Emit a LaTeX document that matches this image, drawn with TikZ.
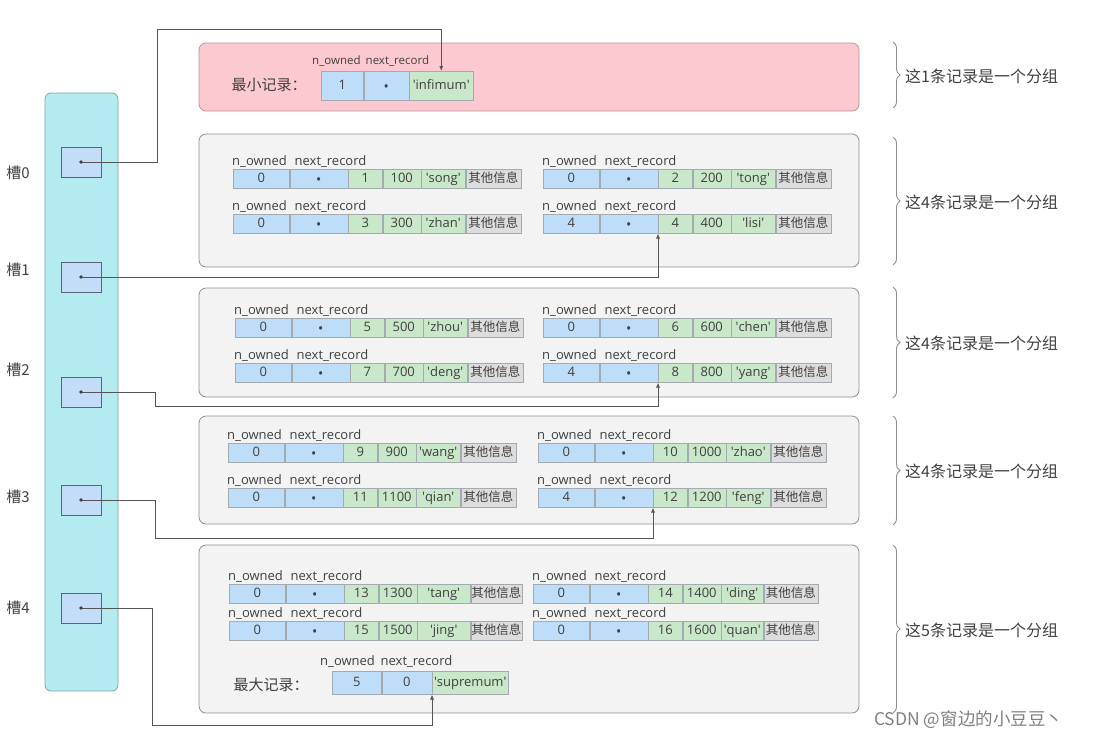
\documentclass[tikz,border=0pt]{standalone}
\usepackage{fontspec}
\setmainfont{Open Sans}
\newfontfamily\cjk{Noto Sans CJK SC}
\usepackage{tikz}
\usetikzlibrary{arrows.meta,decorations.pathreplacing,positioning}

\definecolor{SlotCol}{HTML}{B3EBF0}
\definecolor{SlotEdge}{HTML}{7FA3A8}
\definecolor{SlotBox}{HTML}{C3DDF8}
\definecolor{SlotBoxEdge}{HTML}{56657A}
\definecolor{CellBlue}{HTML}{BDDDF9}
\definecolor{CellGreen}{HTML}{C9E7C9}
\definecolor{CellGray}{HTML}{DDDDDD}
\definecolor{CellEdge}{HTML}{A3ABB0}
\definecolor{GroupPink}{HTML}{FDC9D0}
\definecolor{PinkEdge}{HTML}{B4959A}
\definecolor{GroupGray}{HTML}{F3F3F3}
\definecolor{EdgeGray}{HTML}{8E8E8E}
\definecolor{InkGray}{HTML}{404040}
\definecolor{LinkGray}{HTML}{555555}

\newcommand{\qt}[1]{\textquotesingle#1\textquotesingle}
\newcommand{\Dot}{\raisebox{-2.5pt}{\fontsize{14}{14}\selectfont\textbullet}}
% one record: prefix, x, y, n_owned, key, value, name, name width, other width
\newcommand{\Record}[9]{%
  \node (#1o) at (#2,#3) [Cell, BlueCell, minimum width=56pt, anchor=north west] {#4};
  \node (#1n) [Cell, BlueCell, minimum width=58pt, right=0pt of #1o] {\Dot};
  \node (#1k) [Cell, GreenCell, minimum width=34pt, right=0pt of #1n] {#5};
  \node (#1v) [Cell, GreenCell, minimum width=38pt, right=0pt of #1k] {#6};
  \node (#1m) [Cell, GreenCell, minimum width=#8, right=0pt of #1v] {\qt{#7}};
  \node (#1x) [Cell, GrayCell, minimum width=#9, right=0pt of #1m] {\cjk\fontsize{12.5}{14}\selectfont 其他信息};
  \node (#1h) [Head, anchor=base west] at ([xshift=-1pt,yshift=4pt]#1o.north west) {n\_owned};
  \node (#1H) [Head, anchor=base west] at ([xshift=5pt,yshift=4pt]#1n.north west) {next\_record};
}

\begin{document}
\begin{tikzpicture}[x=1pt, y=-1pt]
		\tikzstyle{Column}	= [draw=SlotEdge, fill=SlotCol, rounded corners=6pt, line width=0.8pt]
		\tikzstyle{SlotBox}	= [draw=SlotBoxEdge, fill=SlotBox, line width=0.8pt, minimum width=40pt, minimum height=30pt]
		\tikzstyle{SlotLabel}	= [text=InkGray, font=\cjk\fontsize{15}{17}\selectfont]
		\tikzstyle{Group}	= [draw=EdgeGray, fill=GroupGray, rounded corners=7pt, line width=0.8pt, minimum width=660pt]
		\tikzstyle{PinkGroup}	= [draw=PinkEdge, fill=GroupPink]
		\tikzstyle{Cell}	= [draw=CellEdge, line width=0.5pt, inner sep=0pt, minimum height=19pt, text height=9pt, text depth=2.5pt, text=InkGray, font=\fontsize{13}{15}\selectfont]
		\tikzstyle{BlueCell}	= [fill=CellBlue]
		\tikzstyle{GreenCell}	= [fill=CellGreen]
		\tikzstyle{GrayCell}	= [fill=CellGray]
		\tikzstyle{Head}	= [inner sep=0pt, text=InkGray, font=\fontsize{13}{15}\selectfont]
		\tikzstyle{SmallHead}	= [inner sep=0pt, text=InkGray, font=\fontsize{11.5}{13}\selectfont]
		\tikzstyle{BigLabel}	= [text=InkGray, font=\cjk\fontsize{15}{17}\selectfont]
		\tikzstyle{Brace}	= [draw=EdgeGray, line width=0.9pt, decorate, decoration={brace, amplitude=7pt}]
		\tikzstyle{GroupText}	= [anchor=west, inner sep=0pt, text=InkGray, font=\cjk\fontsize{16}{18}\selectfont]
		\tikzstyle{Link}	= [draw=LinkGray, line width=0.8pt, -{Latex[length=5pt,width=4pt]}]

		\useasboundingbox (0,0) rectangle (1094,740);

		% slot directory
		\node (col) at (81.5,392) [Column, minimum width=73pt, minimum height=598pt] {};
		\node (s0) at (81,162) [SlotBox] {};
		\node (s1) at (81,277) [SlotBox] {};
		\node (s2) at (81,392) [SlotBox] {};
		\node (s3) at (81,500) [SlotBox] {};
		\node (s4) at (81,608) [SlotBox] {};
		\node (l0) at (18,173) [SlotLabel] {槽0};
		\node (l1) at (18,270) [SlotLabel] {槽1};
		\node (l2) at (18,370) [SlotLabel] {槽2};
		\node (l3) at (18,497) [SlotLabel] {槽3};
		\node (l4) at (18,608) [SlotLabel] {槽4};

		% groups
		\node (g0) at (529,77) [Group, PinkGroup, minimum height=68pt] {};
		\node (g1) at (529,200.5) [Group, minimum height=133pt] {};
		\node (g2) at (529,342.5) [Group, minimum height=109pt] {};
		\node (g3) at (529,470) [Group, minimum height=108pt] {};
		\node (g4) at (529,629) [Group, minimum height=168pt] {};

		% infimum
		\node (minl) at (269,85) [BigLabel] {最小记录：};
		\node (io) at (321,71) [Cell, BlueCell, anchor=north west, minimum width=42pt, minimum height=29pt] {1};
		\node (in) [Cell, BlueCell, minimum width=45pt, minimum height=29pt, right=0pt of io] {\Dot};
		\node (ii) [Cell, GreenCell, minimum width=64pt, minimum height=29pt, right=0pt of in] {\qt{infimum}};
		\node (ih) [SmallHead, anchor=base west] at ([xshift=-9pt,yshift=7pt]io.north west) {n\_owned};
		\node (iH) [SmallHead, anchor=base west] at ([xshift=2pt,yshift=7pt]in.north west) {next\_record};

		% records
		\Record{r1}{233}{169}{0}{1}{100}{song}{44pt}{55pt}
		\Record{r2}{543}{169}{0}{2}{200}{tong}{44pt}{55pt}
		\Record{r3}{233}{214}{0}{3}{300}{zhan}{44pt}{55pt}
		\Record{r4}{543}{214}{4}{4}{400}{lisi}{44pt}{55pt}
		\Record{r5}{235}{318}{0}{5}{500}{zhou}{44pt}{55pt}
		\Record{r6}{543}{318}{0}{6}{600}{chen}{44pt}{55pt}
		\Record{r7}{235}{363}{0}{7}{700}{deng}{44pt}{55pt}
		\Record{r8}{543}{363}{4}{8}{800}{yang}{44pt}{55pt}
		\Record{r9}{228}{443}{0}{9}{900}{wang}{44pt}{55pt}
		\Record{r10}{538}{443}{0}{10}{1000}{zhao}{44pt}{55pt}
		\Record{r11}{228}{488}{0}{11}{1100}{qian}{44pt}{55pt}
		\Record{r12}{538}{488}{4}{12}{1200}{feng}{44pt}{55pt}
		\Record{r13}{229}{584}{0}{13}{1300}{tang}{53pt}{51pt}
		\Record{r14}{533}{584}{0}{14}{1400}{ding}{42pt}{54pt}
		\Record{r15}{229}{621}{0}{15}{1500}{jing}{53pt}{51pt}
		\Record{r16}{533}{621}{0}{16}{1600}{quan}{42pt}{54pt}

		% supremum
		\node (maxl) at (271,685) [BigLabel] {最大记录：};
		\node (so) at (332,671) [Cell, BlueCell, anchor=north west, minimum width=49pt, minimum height=23pt] {5};
		\node (sn) [Cell, BlueCell, minimum width=50pt, minimum height=23pt, right=0pt of so] {0};
		\node (ss) [Cell, GreenCell, minimum width=76pt, minimum height=23pt, right=0pt of sn] {\qt{supremum}};
		\node (sh) [Head, anchor=base west] at ([xshift=-12pt,yshift=6pt]so.north west) {n\_owned};
		\node (sH) [Head, anchor=base west] at ([xshift=-1pt,yshift=6pt]sn.north west) {next\_record};

		% braces
		\draw [Brace] (893,42) -- (893,108);
		\draw [Brace] (893,137) -- (893,265);
		\draw [Brace] (893,287) -- (893,398);
		\draw [Brace] (893,416) -- (893,525);
		\draw [Brace] (893,545) -- (893,713);
		\node (t0) at (905,76) [GroupText] {这1条记录是一个分组};
		\node (t1) at (905,202) [GroupText] {这4条记录是一个分组};
		\node (t2) at (905,343) [GroupText] {这4条记录是一个分组};
		\node (t3) at (905,471) [GroupText] {这4条记录是一个分组};
		\node (t4) at (905,630) [GroupText] {这5条记录是一个分组};

		% slot pointers
		\coordinate (b0) at (157,29);
		\coordinate (b2) at (155,406);
		\coordinate (b3) at (155,538);
		\coordinate (b4) at (152,725);
		\draw [Link] (s0.center) -| (b0) -| (ii.north);
		\draw [Link] (s1.center) -| (r4k.south west);
		\draw [Link] (s2.center) -| (b2) -| (r8k.south west);
		\draw [Link] (s3.center) -| (b3) -| (r12k.south west);
		\draw [Link] (s4.center) -| (b4) -| (ss.south west);
		\foreach \s in {s0,s1,s2,s3,s4}
			\fill [InkGray] (\s.center) circle (1.8);

		\node (wm) at (874,720) [anchor=west, inner sep=0pt, text=gray, font=\cjk\fontsize{17.5}{19}\selectfont] {CSDN @窗边的小豆豆丶};
	\end{tikzpicture}
\end{document}
